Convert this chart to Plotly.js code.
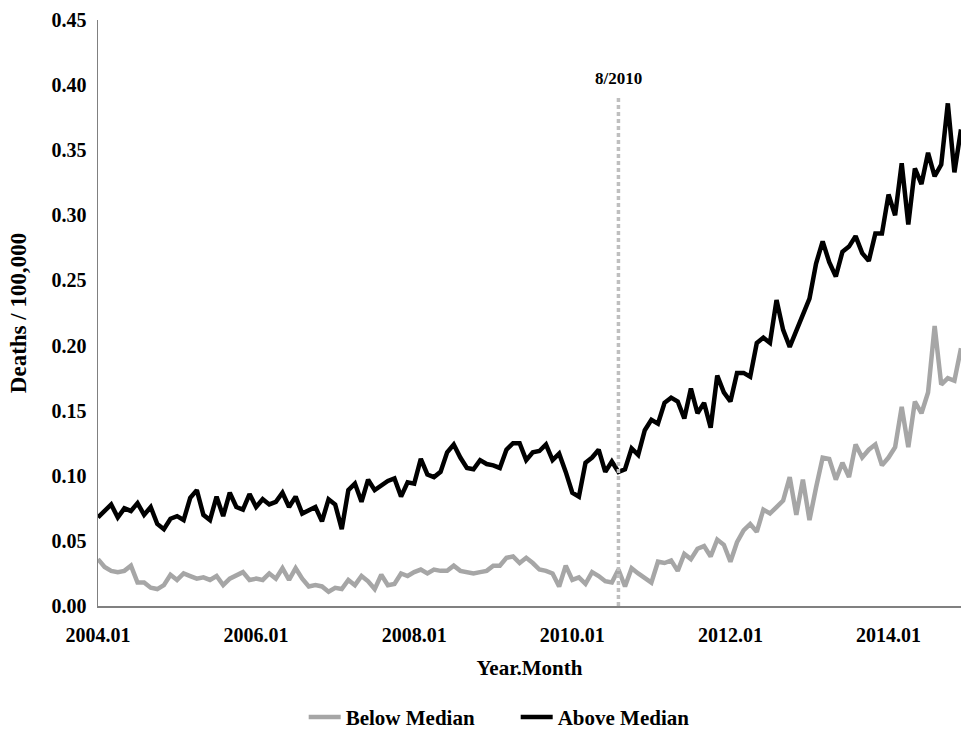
<!DOCTYPE html>
<html>
<head>
<meta charset="utf-8">
<script src="https://cdn.plot.ly/plotly-3.0.1.min.js"></script>
<style>html,body{margin:0;padding:0;background:#fff;}#chart{width:961px;height:730px;}</style>
</head>
<body>
<div id="chart"></div>
<script>
// Monthly categories 2004.01 .. 2014.12
const startYear = 2004;
const endYear = 2014;
const months = [];
for (let y = startYear; y <= endYear; y++) {
  for (let m = 1; m <= 12; m++) {
    months.push(y + "." + (m < 10 ? "0" + m : "" + m));
  }
}

const belowMedian = [
  0.036, 0.030, 0.027, 0.026, 0.027, 0.031, 0.018, 0.018, 0.014, 0.013, 0.016, 0.024,
  0.020, 0.025, 0.023, 0.021, 0.022, 0.020, 0.023, 0.016, 0.021, 0.024, 0.026, 0.020,
  0.021, 0.020, 0.025, 0.021, 0.029, 0.020, 0.029, 0.021, 0.015, 0.016, 0.015, 0.011,
  0.014, 0.013, 0.020, 0.016, 0.023, 0.019, 0.013, 0.024, 0.016, 0.017, 0.025, 0.023,
  0.026, 0.028, 0.025, 0.028, 0.027, 0.027, 0.031, 0.027, 0.026, 0.025, 0.026, 0.027,
  0.031, 0.031, 0.037, 0.038, 0.033, 0.037, 0.033, 0.028, 0.027, 0.025, 0.015, 0.031,
  0.020, 0.022, 0.017, 0.026, 0.023, 0.019, 0.018, 0.028, 0.015, 0.029, 0.025, 0.022,
  0.018, 0.034, 0.033, 0.035, 0.027, 0.040, 0.036, 0.044, 0.046, 0.038, 0.051, 0.047,
  0.034, 0.049, 0.058, 0.063, 0.057, 0.074, 0.071, 0.076, 0.081, 0.099, 0.070, 0.097,
  0.066, 0.091, 0.114, 0.113, 0.097, 0.110, 0.099, 0.124, 0.114, 0.120, 0.124, 0.108,
  0.114, 0.122, 0.153, 0.122, 0.157, 0.148, 0.164, 0.215, 0.170, 0.175, 0.173, 0.198
];

const aboveMedian = [
  0.068, 0.073, 0.078, 0.068, 0.075, 0.073, 0.079, 0.070, 0.076, 0.063, 0.059, 0.067,
  0.069, 0.066, 0.083, 0.089, 0.070, 0.066, 0.084, 0.069, 0.087, 0.076, 0.074, 0.086,
  0.076, 0.082, 0.078, 0.080, 0.087, 0.076, 0.084, 0.071, 0.074, 0.076, 0.065, 0.082,
  0.078, 0.059, 0.089, 0.094, 0.080, 0.097, 0.089, 0.093, 0.096, 0.098, 0.084, 0.095,
  0.094, 0.113, 0.101, 0.099, 0.103, 0.118, 0.124, 0.114, 0.106, 0.105, 0.112, 0.109,
  0.108, 0.106, 0.120, 0.125, 0.125, 0.112, 0.118, 0.119, 0.124, 0.112, 0.117, 0.103,
  0.087, 0.084, 0.110, 0.114, 0.120, 0.103, 0.111, 0.103, 0.105, 0.121, 0.116, 0.135,
  0.143, 0.140, 0.156, 0.160, 0.157, 0.144, 0.167, 0.148, 0.156, 0.137, 0.177, 0.164,
  0.157, 0.179, 0.179, 0.176, 0.202, 0.206, 0.202, 0.235, 0.212, 0.199, 0.212, 0.225,
  0.236, 0.263, 0.280, 0.264, 0.253, 0.272, 0.276, 0.284, 0.271, 0.265, 0.286, 0.286,
  0.316, 0.300, 0.340, 0.293, 0.336, 0.324, 0.348, 0.330, 0.339, 0.386, 0.333, 0.366
];

const xTickLabels = ["2004.01", "2006.01", "2008.01", "2010.01", "2012.01", "2014.01"];
const yTickValues = [0, 0.05, 0.10, 0.15, 0.20, 0.25, 0.30, 0.35, 0.40, 0.45];
const eventMonth = "2010.08";
const eventLabel = "8/2010";
const seriesNames = ["Below Median", "Above Median"];

const FONT = "Liberation Serif, Times New Roman, serif";

const traces = [
  {
    x: months, y: belowMedian, type: "scatter", mode: "lines", name: seriesNames[0],
    line: {color: "#a6a6a6", width: 4.5}
  },
  {
    x: months, y: aboveMedian, type: "scatter", mode: "lines", name: seriesNames[1],
    line: {color: "#000000", width: 4.5}
  }
];

const eventIndex = months.indexOf(eventMonth);

const layout = {
  width: 961, height: 730,
  margin: {l: 98, r: 0, t: 20, b: 124, pad: 0, autoexpand: false},
  paper_bgcolor: "#ffffff",
  plot_bgcolor: "#ffffff",
  font: {family: FONT, size: 20, color: "#000000", weight: "bold"},
  showlegend: true,
  legend: {
    orientation: "h", x: 0.484, xanchor: "center", y: -0.19, yanchor: "middle",
    font: {family: FONT, size: 21, color: "#000000", weight: "bold"},
    itemwidth: 32, entrywidth: 165, entrywidthmode: "pixels",
    tracegroupgap: 0, bgcolor: "rgba(0,0,0,0)"
  },
  xaxis: {
    type: "category",
    automargin: false,
    range: [0, months.length - 1],
    tickmode: "array",
    tickvals: xTickLabels,
    ticktext: xTickLabels,
    ticks: "",
    showgrid: false,
    zeroline: false,
    showline: true, linecolor: "#808080", linewidth: 1.5,
    tickfont: {family: FONT, size: 20, color: "#000000", weight: "bold"},
    ticklabelstandoff: 10,
    title: {text: "Year.Month", font: {family: FONT, size: 21, color: "#000000", weight: "bold"}, standoff: 16}
  },
  yaxis: {
    automargin: false,
    range: [0, 0.45],
    tickmode: "array",
    tickvals: yTickValues,
    tickformat: ".2f",
    ticks: "",
    showgrid: false,
    zeroline: false,
    showline: true, linecolor: "#808080", linewidth: 1.5,
    tickfont: {family: FONT, size: 20, color: "#000000", weight: "bold"},
    ticklabelstandoff: 6,
    title: {text: "Deaths / 100,000", font: {family: FONT, size: 23, color: "#000000", weight: "bold"}, standoff: 18}
  },
  shapes: [
    {
      type: "line", xref: "x", yref: "y",
      x0: eventIndex, x1: eventIndex, y0: 0, y1: 0.392,
      line: {color: "#bfbfbf", width: 3.5, dash: "4px,3px"},
      layer: "above"
    }
  ],
  annotations: [
    {
      xref: "x", yref: "y", x: eventIndex, y: 0.405,
      text: eventLabel, showarrow: false,
      font: {family: FONT, size: 17, color: "#000000", weight: "bold"}
    }
  ]
};

Plotly.newPlot("chart", traces, layout, {staticPlot: true, displayModeBar: false});
</script>
</body>
</html>
